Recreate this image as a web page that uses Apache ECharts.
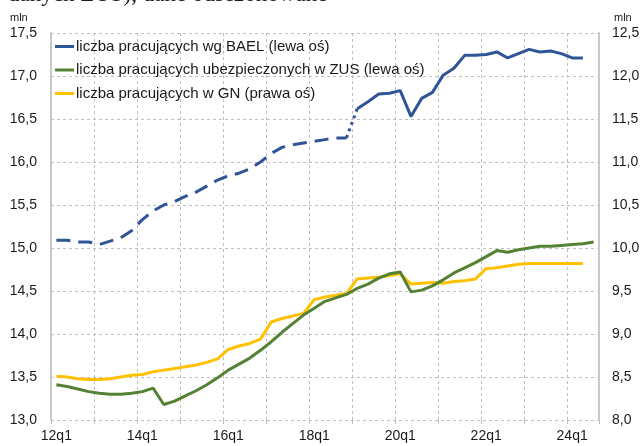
<!DOCTYPE html>
<html>
<head>
<meta charset="utf-8">
<script src="https://cdn.jsdelivr.net/npm/echarts@6/dist/echarts.min.js"></script>
<style>
  html, body { margin: 0; padding: 0; background: #fff; }
  #chart { width: 644px; height: 446px; }
</style>
</head>
<body>
<div id="chart"></div>
<script>
// kwartały 12q1 .. 24q3
const quarters = [
  '12q1','12q2','12q3','12q4','13q1','13q2','13q3','13q4',
  '14q1','14q2','14q3','14q4','15q1','15q2','15q3','15q4',
  '16q1','16q2','16q3','16q4','17q1','17q2','17q3','17q4',
  '18q1','18q2','18q3','18q4','19q1','19q2','19q3','19q4',
  '20q1','20q2','20q3','20q4','21q1','21q2','21q3','21q4',
  '22q1','22q2','22q3','22q4','23q1','23q2','23q3','23q4',
  '24q1','24q2','24q3'
];

// BAEL - stara metodologia (12q1..18q4), linia przerywana
const baelOld = [
  15.09, 15.09, 15.07, 15.07, 15.04, 15.08, 15.12, 15.20,
  15.33, 15.43, 15.50, 15.54, 15.60, 15.65, 15.72, 15.79,
  15.84, 15.87, 15.92, 16.00, 16.10, 16.17, 16.20, 16.22,
  16.24, 16.26, 16.28, 16.28
];
// BAEL - nowa metodologia (19q1..24q2), linia ciągła
const baelNew = [
  16.62, 16.70, 16.79, 16.80, 16.83, 16.53, 16.74, 16.81,
  17.01, 17.09, 17.24, 17.24, 17.25, 17.28, 17.21, 17.26,
  17.31, 17.28, 17.29, 17.26, 17.21, 17.21
];
// ubezpieczeni w ZUS (12q1..24q3)
const zus = [
  13.41, 13.39, 13.36, 13.33, 13.31, 13.30, 13.30, 13.31,
  13.33, 13.37, 13.18, 13.22, 13.28, 13.34, 13.41, 13.49,
  13.58, 13.65, 13.72, 13.81, 13.91, 14.02, 14.12, 14.22,
  14.30, 14.38, 14.42, 14.46, 14.53, 14.58, 14.65, 14.70,
  14.72, 14.49, 14.51, 14.56, 14.63, 14.71, 14.77, 14.83,
  14.90, 14.97, 14.95, 14.98, 15.00, 15.02, 15.02, 15.03,
  15.04, 15.05, 15.07
];
// pracujący w GN (prawa oś, 12q1..24q2)
const gn = [
  8.51, 8.50, 8.48, 8.47, 8.47, 8.48, 8.50, 8.52,
  8.53, 8.56, 8.58, 8.60, 8.62, 8.64, 8.67, 8.71,
  8.82, 8.86, 8.89, 8.94, 9.14, 9.18, 9.21, 9.24,
  9.40, 9.43, 9.45, 9.47, 9.64, 9.65, 9.66, 9.68,
  9.70, 9.58, 9.59, 9.60, 9.59, 9.61, 9.62, 9.64,
  9.76, 9.77, 9.79, 9.81, 9.82, 9.82, 9.82, 9.82,
  9.82, 9.82
];

const leftTicks = { min: 13, max: 17.5, step: 0.5 };
const rightTicks = { min: 8, max: 12.5, step: 0.5 };

const blue = '#2F5597';
const green = '#548235';
const yellow = '#FFC000';
const gridColor = '#BFBFBF';
const axisColor = '#C8C8C8';
const textColor = '#1a1a1a';

// serie złożone z tablic
const nOld = baelOld.length;
const oldData = baelOld.slice();
const newData = new Array(nOld).fill('-').concat(baelNew);
const linkData = new Array(quarters.length).fill('-');
linkData[nOld - 1] = baelOld[nOld - 1];
linkData[nOld] = baelNew[0];

const fmt = v => v.toFixed(1).replace('.', ',');

let myChart = echarts.init(document.getElementById('chart'), null, { renderer: 'canvas' });

const option = {
  animation: false,
  backgroundColor: '#fff',
  textStyle: { fontFamily: 'Liberation Sans, Arial, sans-serif' },
  grid: { left: 51, right: 45, top: 33, bottom: 26, containLabel: false },
  legend: {
    data: [
      'liczba pracujących wg BAEL (lewa oś)',
      'liczba pracujących ubezpieczonych w ZUS (lewa oś)',
      'liczba pracujących w GN (prawa oś)'
    ],
    orient: 'vertical',
    left: 55,
    top: 39,
    itemGap: 8.5,
    itemWidth: 19,
    itemHeight: 3,
    icon: 'rect',
    padding: 0,
    textStyle: { fontSize: 15, color: textColor, padding: [0, 0, 0, -3] }
  },
  graphic: [
    {
      type: 'text', left: 8, top: -17,
      style: { text: 'danych ZUS), dane odsezonowane', fontSize: 23,
               fontFamily: 'Liberation Serif, Times New Roman, serif', fill: textColor }
    },
    { type: 'text', left: 10, top: 12, style: { text: 'mln', fontSize: 11, fill: textColor } },
    { type: 'text', left: 614, top: 12, style: { text: 'mln', fontSize: 11, fill: textColor } }
  ],
  xAxis: {
    type: 'category',
    data: quarters,
    boundaryGap: true,
    axisLine: { show: false },
    axisTick: { show: true, interval: 3, length: 4, lineStyle: { color: gridColor } },
    axisLabel: { interval: 7, color: textColor, fontSize: 14, margin: 9 },
    splitLine: { show: true, interval: 3, lineStyle: { color: gridColor, type: [3, 3], width: 1 } }
  },
  yAxis: [
    {
      type: 'value', position: 'left',
      min: leftTicks.min, max: leftTicks.max, interval: leftTicks.step,
      axisLine: { show: true, lineStyle: { color: axisColor, width: 2 } },
      axisTick: { show: false },
      axisLabel: { formatter: fmt, color: textColor, fontSize: 14, margin: 14 },
      splitLine: { show: true, lineStyle: { color: gridColor, type: [3, 3], width: 1 } }
    },
    {
      type: 'value', position: 'right',
      min: rightTicks.min, max: rightTicks.max, interval: rightTicks.step,
      axisLine: { show: true, lineStyle: { color: axisColor, width: 2 } },
      axisTick: { show: false },
      axisLabel: { formatter: fmt, color: textColor, fontSize: 14, margin: 13 },
      splitLine: { show: false }
    }
  ],
  series: [
    {
      name: 'liczba pracujących w GN (prawa oś)',
      type: 'line', yAxisIndex: 1, data: gn,
      symbol: 'none', lineStyle: { color: yellow, width: 3 }, itemStyle: { color: yellow }
    },
    {
      name: 'liczba pracujących ubezpieczonych w ZUS (lewa oś)',
      type: 'line', yAxisIndex: 0, data: zus,
      symbol: 'none', lineStyle: { color: green, width: 3 }, itemStyle: { color: green }
    },
    {
      name: 'bael-old',
      type: 'line', yAxisIndex: 0, data: oldData,
      symbol: 'none', lineStyle: { color: blue, width: 3, type: [14, 8] }
    },
    {
      name: 'bael-link',
      type: 'line', yAxisIndex: 0, data: linkData,
      symbol: 'none', lineStyle: { color: blue, width: 3, type: [3, 4] }
    },
    {
      name: 'liczba pracujących wg BAEL (lewa oś)',
      type: 'line', yAxisIndex: 0, data: newData,
      symbol: 'none', lineStyle: { color: blue, width: 3 }, itemStyle: { color: blue }
    }
  ]
};

myChart.setOption(option);
</script>
</body>
</html>
